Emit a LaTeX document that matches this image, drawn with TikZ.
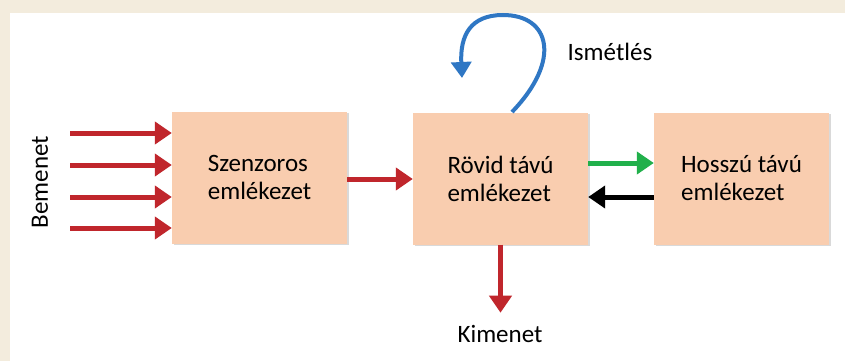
\documentclass[tikz,border=0pt]{standalone}
\usepackage{fontspec}
\setmainfont{Carlito}
\usetikzlibrary{arrows.meta,shadows}
\definecolor{bgbeige}{HTML}{F3ECDD}
\definecolor{boxfill}{HTML}{F9CDAF}
\definecolor{arrred}{HTML}{C0262C}
\definecolor{arrgreen}{HTML}{21B04B}
\definecolor{arrblue}{HTML}{2F77C4}
\tikzset{
  membox/.style={fill=boxfill, draw=none, minimum width=175pt, minimum height=132pt,
    align=left, font=\fontsize{25}{28}\selectfont,
    drop shadow={shadow xshift=1.5pt, shadow yshift=-1.5pt, opacity=0.15, fill=black}},
  lbl/.style={font=\fontsize{25}{28}\selectfont, inner sep=0pt},
  fat/.style={line width=5pt, -{Triangle[length=17pt,width=22pt]}},
}
\begin{document}
\begin{tikzpicture}[x=1pt,y=-1pt]
\useasboundingbox (0,0) rectangle (845,361);
\fill[bgbeige] (0,0) rectangle (845,361);
\fill[white] (10,13) rectangle (845,361);

\node[membox] (sz) at (259.5,177.5) {Szenzoros\\emlékezet};
\node[membox] (rt) at (500.5,178.5) {Rövid távú\\emlékezet};
\node[membox] (ht) at (741.5,178.5) {Hosszú távú\\emlékezet};

\node[lbl, rotate=90] (be) at (40,182) {Bemenet};
\node[lbl] (ki) at (500,334) {Kimenet};
\node[lbl] (is) at (610,52) {Ismétlés};

\foreach \yy/\nm in {133/a,165/b,197/c,228/d}{
  \coordinate (in\nm) at (70,\yy);
  \draw[fat, arrred] (in\nm) -- (sz.west |- in\nm);
}
\draw[fat, arrred] (sz.east |- 0,179) -- (rt.west |- 0,179);
\draw[fat, arrgreen] (rt.east |- 0,163) -- (ht.west |- 0,163);
\draw[fat, black] (ht.west |- 0,197) -- (rt.east |- 0,197);
\draw[fat, arrred] (rt.south) -- ([yshift=-68pt]rt.south) coordinate (kt);

\coordinate (ls) at (512,112);
\coordinate (le) at (462,78);
\draw[line width=4pt, arrblue, -{Triangle[length=16pt,width=20pt]}]
  (ls) .. controls (562,60) and (550,15) .. (503,15)
       .. controls (470,15) and (460,36) .. (le);
\end{tikzpicture}
\end{document}
